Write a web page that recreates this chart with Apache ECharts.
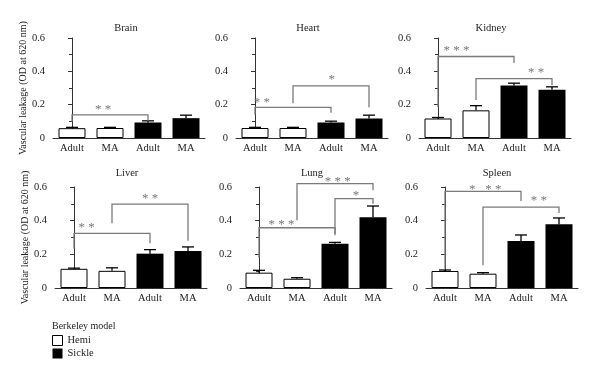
<!DOCTYPE html>
<html>
<head>
<meta charset="utf-8">
<script src="https://cdn.jsdelivr.net/npm/echarts@6/dist/echarts.min.js"></script>
<style>
  html, body { margin: 0; padding: 0; background: #fff; }
  #main { width: 600px; height: 377px; }
</style>
</head>
<body>
<div id="main"></div>
<script>
// panels and x categories
var organs = ['Brain', 'Heart', 'Kidney', 'Liver', 'Lung', 'Spleen'];
var groups = ['Adult', 'MA', 'Adult', 'MA'];

// means and error (upper whisker) per organ: [Adult, MA]
var hemiMean   = [[0.059, 0.060], [0.060, 0.060], [0.117, 0.166], [0.114, 0.102], [0.091, 0.055], [0.101, 0.085]];
var hemiErr    = [[0.005, 0.004], [0.004, 0.004], [0.006, 0.028], [0.004, 0.018], [0.014, 0.006], [0.006, 0.006]];
var sickleMean = [[0.093, 0.119], [0.093, 0.117], [0.315, 0.289], [0.204, 0.220], [0.263, 0.420], [0.279, 0.378]];
var sickleErr  = [[0.010, 0.018], [0.008, 0.020], [0.014, 0.018], [0.024, 0.024], [0.008, 0.067], [0.036, 0.038]];

// significance brackets: [from, to, leftEnd, top, rightEnd, starX, starY, stars]
var brackets = [
  [[0, 2, 0.099, 0.139, 0.103, 0.82, 0.188, '* *']],
  [[0, 2, 0.139, 0.184, 0.152, 0.18, 0.232, '* *'], [1, 3, 0.208, 0.313, 0.184, 2.02, 0.366, '*']],
  [[0, 2, 0.184, 0.489, 0.450, 0.49, 0.545, '* * *'], [1, 3, 0.228, 0.356, 0.317, 2.58, 0.410, '* *']],
  [[0, 2, 0.234, 0.324, 0.266, 0.33, 0.378, '* *'], [1, 3, 0.384, 0.498, 0.280, 2.00, 0.550, '* *']],
  [[0, 2, 0.180, 0.358, 0.323, 0.59, 0.392, '* * *'], [2, 3, 0.313, 0.531, 0.501, 2.55, 0.564, '*'], [1, 3, 0.402, 0.620, 0.580, 2.07, 0.650, '* * *']],
  [[0, 2, 0.115, 0.574, 0.517, 1.06, 0.604, '*   * *'], [1, 3, 0.135, 0.481, 0.446, 2.47, 0.540, '* *']]
];

var yTicks = [0, 0.2, 0.4, 0.6];

var font = 'Liberation Serif, DejaVu Serif, serif';
var rows = [{ top: 38, height: 100, titleTop: 18 }, { top: 187, height: 101, titleTop: 163 }];
var lefts = [[53, 236, 419], [55, 240, 426]];
var titleX = [[121, 303, 486], [122, 307, 492]];

var myChart = echarts.init(document.getElementById('main'));

var grid = [], xAxis = [], yAxis = [], series = [], title = [];

function errRender(params, api) {
  var x = api.value(0);
  var p1 = api.coord([x, api.value(1)]);
  var p2 = api.coord([x, api.value(2)]);
  return {
    type: 'group',
    children: [
      { type: 'line', shape: { x1: p1[0], y1: p1[1], x2: p2[0], y2: p2[1] }, style: { stroke: '#000', lineWidth: 1.3 } },
      { type: 'line', shape: { x1: p2[0] - 6, y1: p2[1], x2: p2[0] + 6, y2: p2[1] }, style: { stroke: '#000', lineWidth: 1.3 } }
    ]
  };
}

function bracketRender(list) {
  return function (params, api) {
    var b = list[params.dataIndex];
    var a = api.coord([b[0], b[2]]);
    var t1 = api.coord([b[0], b[3]]);
    var t2 = api.coord([b[1], b[3]]);
    var c = api.coord([b[1], b[4]]);
    var s = api.coord([b[5], b[6]]);
    return {
      type: 'group',
      children: [
        { type: 'polyline', shape: { points: [a, t1, t2, c] }, style: { stroke: '#7a7a7a', lineWidth: 1.3, fill: null } },
        { type: 'text', x: s[0], y: s[1] + 3, style: { text: b[7], fill: '#777', font: '13px ' + font, align: 'center', verticalAlign: 'middle' } }
      ]
    };
  };
}

organs.forEach(function (organ, i) {
  var r = Math.floor(i / 3), c = i % 3;
  grid.push({ left: lefts[r][c], top: rows[r].top, width: 152, height: rows[r].height });
  title.push({
    text: organ, left: titleX[r][c], top: rows[r].titleTop, textAlign: 'center',
    textStyle: { fontFamily: font, fontSize: 10.5, fontWeight: 'normal', color: '#222' }
  });
  xAxis.push({
    type: 'category', gridIndex: i, data: groups,
    axisLine: { lineStyle: { color: '#333', width: 1 } },
    axisTick: { show: false },
    axisLabel: { color: '#222', fontFamily: font, fontSize: 10.5, margin: 5, interval: 0 }
  });
  xAxis.push({ type: 'value', gridIndex: i, min: -0.5, max: 3.5, show: false });
  yAxis.push({
    type: 'value', gridIndex: i, min: yTicks[0], max: yTicks[yTicks.length - 1], interval: 0.2,
    name: c === 0 ? 'Vascular leakage (OD at 620 nm)' : '',
    nameLocation: 'middle', nameGap: 22,
    nameTextStyle: { fontFamily: font, fontSize: 10, color: '#222' },
    axisLine: { show: true, lineStyle: { color: '#333', width: 1 } },
    axisTick: { show: true, length: 4, lineStyle: { color: '#333' } },
    minorTick: { show: true, splitNumber: 2, length: 3, lineStyle: { color: '#333' } },
    splitLine: { show: false },
    axisLabel: { color: '#222', fontFamily: font, fontSize: 10.5, margin: 8 }
  });
  series.push({
    name: 'Hemi', type: 'bar', xAxisIndex: 2 * i, yAxisIndex: i,
    data: [hemiMean[i][0], hemiMean[i][1], '-', '-'],
    barWidth: 27, barGap: '-100%',
    itemStyle: { color: '#fff', borderColor: '#000', borderWidth: 1 }
  });
  series.push({
    name: 'Sickle', type: 'bar', xAxisIndex: 2 * i, yAxisIndex: i,
    data: ['-', '-', sickleMean[i][0], sickleMean[i][1]],
    barWidth: 27, barGap: '-100%',
    itemStyle: { color: '#000' }
  });
  series.push({
    name: 'err', type: 'custom', xAxisIndex: 2 * i + 1, yAxisIndex: i,
    renderItem: errRender, z: 5,
    data: [
      [0, hemiMean[i][0], hemiMean[i][0] + hemiErr[i][0]],
      [1, hemiMean[i][1], hemiMean[i][1] + hemiErr[i][1]],
      [2, sickleMean[i][0], sickleMean[i][0] + sickleErr[i][0]],
      [3, sickleMean[i][1], sickleMean[i][1] + sickleErr[i][1]]
    ]
  });
  series.push({
    name: 'sig', type: 'custom', xAxisIndex: 2 * i + 1, yAxisIndex: i,
    renderItem: bracketRender(brackets[i]), clip: false, z: 6,
    data: brackets[i].map(function (b) { return [b[0], b[3]]; })
  });
});

option = {
  animation: false,
  backgroundColor: '#fff',
  title: title,
  grid: grid,
  xAxis: xAxis,
  yAxis: yAxis,
  legend: {
    data: ['Hemi', 'Sickle'],
    orient: 'vertical', left: 47, top: 335, padding: [0, 5],
    itemWidth: 10, itemHeight: 10, itemGap: 2, icon: 'rect',
    itemStyle: { borderWidth: 1 },
    textStyle: { fontFamily: font, fontSize: 10.5, color: '#222' }
  },
  graphic: [{
    type: 'text', left: 52, top: 321,
    style: { text: 'Berkeley model', font: '10px ' + font, fill: '#222' }
  }],
  series: series
};
myChart.setOption(option);
</script>
</body>
</html>
